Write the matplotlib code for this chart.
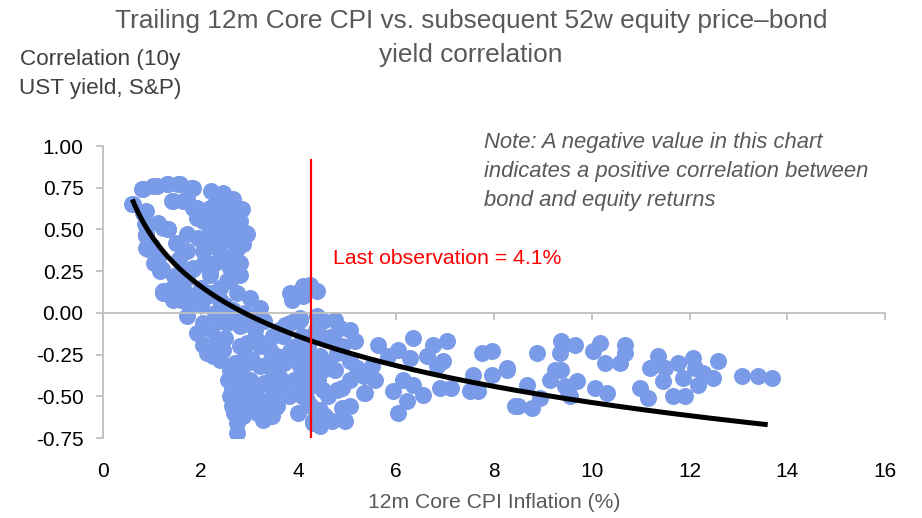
import matplotlib
matplotlib.use('Agg')
import matplotlib.pyplot as plt
import numpy as np

# Scatter data: (trailing 12m core CPI %, subsequent 52w correlation)
low_infl_loop = [
    (0.60, 0.65), (0.62, 0.65), (0.79, 0.74), (0.82, 0.74), (1.02, 0.76), (1.10, 0.76),
    (1.30, 0.77), (1.34, 0.77), (1.54, 0.77), (1.58, 0.77), (1.81, 0.75), (1.85, 0.75),
    (1.41, 0.67), (1.44, 0.67), (1.64, 0.67), (1.71, 0.68), (1.84, 0.63), (1.92, 0.63),
    (0.82, 0.60), (0.89, 0.61), (0.85, 0.53), (0.89, 0.47), (0.89, 0.46), (0.92, 0.38),
    (0.89, 0.39), (1.00, 0.40), (1.05, 0.30), (1.10, 0.30), (1.13, 0.33), (1.20, 0.26),
    (1.17, 0.25), (1.13, 0.54), (1.23, 0.51), (1.33, 0.50), (1.34, 0.50), (1.23, 0.12),
    (1.23, 0.13), (1.35, 0.14), (1.43, 0.08), (1.51, 0.17), (1.71, 0.21), (1.58, 0.20),
    (1.85, 0.26), (1.85, 0.27), (1.71, 0.37), (1.71, 0.47), (1.92, 0.57), (1.50, 0.42),
    (1.55, 0.32), (1.60, 0.25), (1.45, 0.22),
]
core_blob = [
    (2.22, 0.73), (2.46, 0.72), (2.67, 0.68), (2.84, 0.62), (2.94, 0.47), (2.93, 0.48),
    (2.87, 0.41), (2.74, 0.31), (2.80, 0.23), (2.39, 0.57), (2.19, 0.49), (2.05, 0.37),
    (2.39, 0.37), (2.19, 0.23), (2.53, 0.19), (2.46, 0.47), (2.60, 0.53), (2.19, 0.63),
    (2.39, 0.65), (2.05, 0.29), (2.67, 0.43), (2.60, 0.27), (2.66, 0.59), (3.01, 0.09),
    (3.21, 0.03), (2.30, 0.65), (2.50, 0.60), (2.30, 0.55), (2.60, 0.45), (2.40, 0.42),
    (2.20, 0.40), (2.50, 0.33), (2.30, 0.30), (2.60, 0.20), (2.40, 0.15), (2.20, 0.12),
    (2.00, 0.15), (2.50, 0.05), (2.30, 0.00), (2.60, -0.02), (2.00, 0.05), (1.90, 0.10),
    (2.70, 0.50), (2.80, 0.55), (2.75, 0.38), (2.15, 0.30), (1.95, 0.45), (2.05, 0.55),
    (2.19, 0.24), (2.67, 0.26), (2.80, 0.30), (2.12, 0.10), (2.39, 0.08), (2.67, 0.02),
    (2.74, 0.12), (1.60, 0.08), (1.75, 0.05), (1.70, 0.12),
]
lower_blob = [
    (1.71, -0.02), (2.05, -0.06), (1.92, -0.12), (2.12, -0.24), (2.39, -0.28), (2.60, -0.34),
    (2.63, -0.46), (2.63, -0.56), (2.74, -0.66), (2.74, -0.72), (2.94, -0.54), (3.28, -0.64),
    (3.52, -0.57), (3.62, -0.39), (3.42, -0.44), (3.15, -0.44), (2.87, -0.42), (3.83, -0.26),
    (3.21, -0.20), (2.94, -0.18), (2.80, -0.08), (2.53, -0.06), (3.08, -0.04), (3.48, -0.14),
    (3.83, -0.06), (4.03, -0.04), (3.42, -0.22), (2.94, -0.30), (3.21, -0.32), (3.48, -0.36),
    (2.80, -0.20), (2.33, -0.16), (2.87, -0.62), (3.01, -0.56), (2.60, -0.50), (3.21, -0.52),
    (3.42, -0.60), (2.26, -0.26), (2.05, -0.19), (2.70, -0.30), (3.00, -0.40), (3.10, -0.10),
    (2.50, -0.15), (3.30, -0.05), (3.60, -0.10), (2.85, -0.50), (2.55, -0.40), (2.70, -0.42),
    (2.80, -0.35), (3.05, -0.28), (3.10, -0.48), (3.30, -0.42), (3.30, -0.55), (2.90, -0.25),
    (3.15, -0.60), (2.68, -0.60), (3.50, -0.48), (3.40, -0.30), (3.60, -0.30), (2.20, -0.10),
    (2.40, -0.05), (2.45, -0.22), (2.90, 0.00), (3.15, -0.16),
]
above_zero_group = [
    (3.83, 0.12), (4.03, 0.13), (4.24, 0.17), (4.37, 0.13), (3.86, 0.08), (4.10, 0.10),
    (4.10, 0.16),
]
red_line_blob = [
    (4.03, -0.03), (4.37, -0.02), (4.75, -0.04), (5.05, -0.10), (3.72, -0.07), (5.16, -0.17),
    (4.44, -0.68), (4.30, -0.65), (4.68, -0.65), (4.95, -0.65), (4.88, -0.57), (5.05, -0.56),
    (4.44, -0.58), (3.55, -0.56), (3.45, -0.62), (4.07, -0.50), (4.03, -0.42), (3.62, -0.40),
    (4.51, -0.46), (4.78, -0.46), (5.36, -0.48), (5.05, -0.40), (5.33, -0.38), (4.75, -0.34),
    (4.51, -0.34), (4.17, -0.34), (4.03, -0.32), (3.83, -0.23), (4.13, -0.24), (4.44, -0.26),
    (4.78, -0.24), (5.05, -0.29), (4.71, -0.14), (4.44, -0.14), (4.07, -0.14), (3.69, -0.14),
    (3.55, -0.26), (4.17, -0.52), (4.30, -0.66), (3.70, -0.30), (3.90, -0.40), (4.20, -0.45),
    (4.40, -0.40), (3.80, -0.50), (4.00, -0.60), (4.20, -0.20), (4.35, -0.10), (4.60, -0.30),
    (4.60, -0.50), (3.90, -0.05), (4.50, -0.05), (4.85, -0.09), (4.60, -0.15), (4.90, -0.20),
    (4.30, -0.30), (4.10, -0.38), (3.75, -0.45), (4.55, -0.62), (3.95, -0.20), (4.25, -0.56),
    (5.20, -0.33), (4.90, -0.45),
]
mid_infl = [
    (5.63, -0.19), (6.04, -0.22), (6.35, -0.15), (6.76, -0.19), (7.03, -0.17), (7.75, -0.24),
    (7.95, -0.23), (8.26, -0.33), (8.43, -0.56), (5.84, -0.26), (6.28, -0.27), (6.62, -0.26),
    (6.83, -0.32), (6.96, -0.29), (5.50, -0.32), (5.57, -0.40), (5.33, -0.48), (5.94, -0.47),
    (6.04, -0.60), (6.21, -0.53), (6.35, -0.43), (6.55, -0.49), (6.14, -0.40), (6.90, -0.45),
    (7.13, -0.45), (7.51, -0.47), (7.68, -0.47), (7.58, -0.37), (7.95, -0.37),
]
high_infl = [
    (8.26, -0.34), (8.67, -0.43), (8.50, -0.56), (8.77, -0.57), (8.87, -0.24), (8.94, -0.51),
    (9.15, -0.40), (9.25, -0.34), (9.38, -0.17), (9.35, -0.24), (9.52, -0.47), (9.69, -0.41),
    (9.42, -0.19), (9.66, -0.19), (10.03, -0.23), (10.17, -0.18), (10.68, -0.19), (10.68, -0.24),
    (10.27, -0.30), (10.58, -0.30), (9.38, -0.34), (9.45, -0.44), (9.55, -0.50), (10.07, -0.45),
    (10.31, -0.48), (10.99, -0.45), (11.16, -0.51), (11.36, -0.26), (11.19, -0.33), (11.50, -0.33),
    (11.77, -0.30), (12.08, -0.27), (11.46, -0.41), (11.67, -0.50), (11.91, -0.50), (11.87, -0.39),
    (12.11, -0.33), (12.28, -0.36), (12.18, -0.43), (12.49, -0.39), (12.59, -0.29), (13.07, -0.38),
    (13.41, -0.38), (13.68, -0.39),
]

# log trendline (Excel style) y = a + b*ln(x)
trend_a = 0.459
trend_b = -0.4326
trend_x_start = 0.6
trend_x_end = 13.6

last_obs_x = 4.25
last_obs_top = 0.92

x_ticks = [0, 2, 4, 6, 8, 10, 12, 14, 16]
y_ticks = [1.00, 0.75, 0.50, 0.25, 0.00, -0.25, -0.50, -0.75]

all_pts = np.array(low_infl_loop + core_blob + lower_blob + above_zero_group
                   + red_line_blob + mid_infl + high_infl)

font = 'Liberation Sans'

fig = plt.figure(figsize=(9.22, 5.18), dpi=100)
ax = fig.add_axes([0.1117, 0.1544, 0.8482, 0.5637])

ax.scatter(all_pts[:, 0], all_pts[:, 1], s=150, color='#7A9BE8', linewidths=0, zorder=2)

tx = np.linspace(trend_x_start, trend_x_end, 200)
ax.plot(tx, trend_a + trend_b * np.log(tx), color='black', lw=3.6, zorder=3,
        solid_capstyle='butt')

ax.vlines(last_obs_x, -0.75, last_obs_top, color='#FF0000', lw=1.6, zorder=4)
ax.text(4.7, 0.325, 'Last observation = 4.1%', color='#FF0000', fontsize=15.3,
        family=font, va='center', ha='left')

ax.text(7.8, 0.85,
        'Note: A negative value in this chart\nindicates a positive correlation between\nbond and equity returns',
        color='#595959', fontsize=15.8, family=font, style='italic',
        va='center', ha='left', linespacing=1.5)

ax.set_xlim(0, 16)
ax.set_ylim(-0.75, 1.0)
ax.set_yticks(y_ticks)
ax.set_yticklabels(['%.2f' % v for v in y_ticks])
ax.set_xticks(x_ticks)

axis_grey = '#BFBFBF'
for s in ['top', 'right']:
    ax.spines[s].set_visible(False)
ax.spines['left'].set_color(axis_grey)
ax.spines['left'].set_linewidth(1.3)
ax.spines['bottom'].set_position(('data', 0))
ax.spines['bottom'].set_color(axis_grey)
ax.spines['bottom'].set_linewidth(1.3)
ax.tick_params(axis='y', direction='out', length=5, width=1.3, color=axis_grey,
               pad=9, labelsize=15, labelcolor='black')
ax.tick_params(axis='x', direction='out', length=5, width=1.3, color=axis_grey,
               labelbottom=False)
for lab in ax.get_yticklabels():
    lab.set_family(font)

# x tick labels sit at the bottom of the plot, not on the zero line
sec = ax.secondary_xaxis('bottom')
sec.spines['bottom'].set_visible(False)
sec.set_xticks(x_ticks)
sec.tick_params(length=0, pad=17, labelsize=15, labelcolor='black')
for lab in sec.get_xticklabels():
    lab.set_family(font)
sec.set_xlabel('12m Core CPI Inflation (%)', color='#595959', fontsize=15.2,
               family=font, labelpad=9)

# two-line title, one text per line so the y-axis title can sit beside line two
fig.text(0.511, 0.9595, 'Trailing 12m Core CPI vs. subsequent 52w equity price\u2013bond',
         ha='center', va='center', fontsize=18.9, color='#595959', family=font)
fig.text(0.511, 0.8938, 'yield correlation',
         ha='center', va='center', fontsize=18.9, color='#595959', family=font)
fig.text(0.1085, 0.858, 'Correlation (10y\nUST yield, S&P)', ha='center', va='center',
         fontsize=16.2, color='#404040', family=font, linespacing=1.5)

fig.savefig('out.png', dpi=100)
